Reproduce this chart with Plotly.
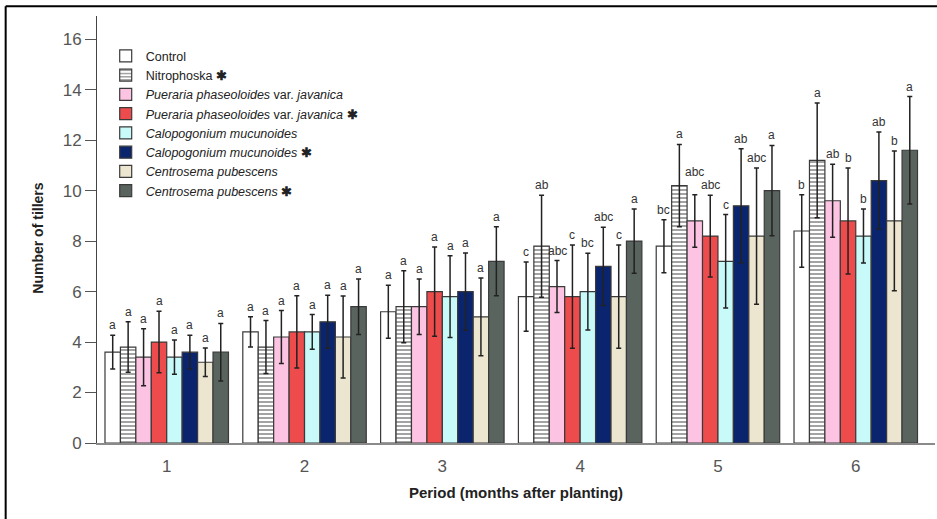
import plotly.graph_objects as go

periods = ["1", "2", "3", "4", "5", "6"]

series_names = [
    "Control",
    "Nitrophoska <b>✱</b>",
    "<i>Pueraria phaseoloides</i> var. <i>javanica</i>",
    "<i>Pueraria phaseoloides</i> var. <i>javanica</i> <b>✱</b>",
    "<i>Calopogonium mucunoides</i>",
    "<i>Calopogonium mucunoides</i> <b>✱</b>",
    "<i>Centrosema pubescens</i>",
    "<i>Centrosema pubescens</i> <b>✱</b>",
]

control = [3.6, 4.4, 5.2, 5.8, 7.8, 8.4]
nitrophoska = [3.8, 3.8, 5.4, 7.8, 10.2, 11.2]
pueraria = [3.4, 4.2, 5.4, 6.2, 8.8, 9.6]
pueraria_s = [4.0, 4.4, 6.0, 5.8, 8.2, 8.8]
calopogonium = [3.4, 4.4, 5.8, 6.0, 7.2, 8.2]
calopogonium_s = [3.6, 4.8, 6.0, 7.0, 9.4, 10.4]
centrosema = [3.2, 4.2, 5.0, 5.8, 8.2, 8.8]
centrosema_s = [3.6, 5.4, 7.2, 8.0, 10.0, 11.6]

control_err = [0.67, 0.6, 1.05, 1.37, 1.05, 1.44]
nitrophoska_err = [1.0, 1.05, 1.43, 2.02, 1.63, 2.27]
pueraria_err = [1.13, 1.05, 1.1, 1.03, 1.04, 1.45]
pueraria_s_err = [1.22, 1.43, 1.77, 2.05, 1.62, 2.1]
calopogonium_err = [0.68, 0.69, 1.62, 1.52, 1.85, 1.07]
calopogonium_s_err = [0.67, 1.05, 1.53, 1.55, 2.26, 1.92]
centrosema_err = [0.56, 1.62, 1.54, 2.05, 2.7, 2.77]
centrosema_s_err = [1.14, 1.1, 1.37, 1.27, 1.79, 2.13]

control_lab = ["a", "a", "a", "c", "bc", "b"]
nitrophoska_lab = ["a", "a", "a", "ab", "a", "a"]
pueraria_lab = ["a", "a", "a", "abc", "abc", "ab"]
pueraria_s_lab = ["a", "a", "a", "c", "abc", "b"]
calopogonium_lab = ["a", "a", "a", "bc", "c", "b"]
calopogonium_s_lab = ["a", "a", "a", "abc", "ab", "ab"]
centrosema_lab = ["a", "a", "a", "c", "abc", "b"]
centrosema_s_lab = ["a", "a", "a", "a", "a", "a"]

values = [control, nitrophoska, pueraria, pueraria_s, calopogonium, calopogonium_s, centrosema, centrosema_s]
errors = [control_err, nitrophoska_err, pueraria_err, pueraria_s_err, calopogonium_err,
          calopogonium_s_err, centrosema_err, centrosema_s_err]
letters = [control_lab, nitrophoska_lab, pueraria_lab, pueraria_s_lab, calopogonium_lab,
           calopogonium_s_lab, centrosema_lab, centrosema_s_lab]

colors = ["#FFFFFF", "#FFFFFF", "#FCC4E2", "#EE4C4C", "#C8FAFA", "#0A246E", "#ECE5CF", "#5A645F"]

# extra vertical nudge (px) for letters that would collide: (series index, period index)
label_nudge = {(2, 4): 13}

W, H = 937, 519
L, R, T, B = 97.3, 935.0, 15.7, 443.3

def px_x(p):
    return (p - L) / (R - L)

def px_y(p):
    return (B - p) / (B - T)

bw = 0.112
fig = go.Figure()
annotations = []
for j in range(8):
    xs = [g + (j - 3.5) * bw for g in range(len(periods))]
    marker = dict(color=colors[j], line=dict(color="#3a3a3a", width=1.2))
    if j == 1:
        marker["pattern"] = dict(shape="-", fgcolor="#333333", bgcolor="#FFFFFF",
                                 size=4, solidity=0.45, fillmode="overlay")
    fig.add_trace(go.Bar(
        x=xs, y=values[j], width=bw, name=series_names[j], marker=marker,
        error_y=dict(type="data", array=errors[j], color="#222222", thickness=1.5, width=2.5),
    ))
    for g in range(len(periods)):
        annotations.append(dict(
            x=xs[g], y=values[j][g] + errors[j][g], xref="x", yref="y",
            text=letters[j][g], showarrow=False, yanchor="bottom",
            yshift=1 + label_nudge.get((j, g), 0),
            font=dict(family="Liberation Sans, Arial", size=12, color="#333333"),
        ))

annotations.append(dict(
    text="<b>Number of tillers</b>", xref="paper", yref="paper",
    x=px_x(38), y=px_y(238), xanchor="center", yanchor="middle",
    textangle=-90, showarrow=False,
    font=dict(size=14, color="#222222"),
))

fig.update_layout(
    width=W, height=H,
    margin=dict(l=L, r=W - R, t=T, b=H - B),
    paper_bgcolor="white", plot_bgcolor="white",
    barmode="overlay",
    font=dict(family="Liberation Sans, Arial", color="#333333"),
    legend=dict(
        x=px_x(106), y=px_y(41), xanchor="left", yanchor="top",
        bgcolor="rgba(0,0,0,0)", borderwidth=0,
        font=dict(family="Liberation Sans, Arial", size=12.5, color="#222222"),
        itemwidth=30, tracegroupgap=0,
    ),
    xaxis=dict(
        range=[-0.506, 5.575], tickmode="array", tickvals=list(range(len(periods))),
        ticktext=periods, showgrid=False, zeroline=False, ticks="",
        showline=True, linecolor="#8a8a8a", linewidth=2,
        tickfont=dict(size=17, color="#555555"), ticklabelstandoff=7,
        title=dict(text="<b>Period (months after planting)</b>",
                   font=dict(size=15, color="#222222"), standoff=12),
    ),
    yaxis=dict(
        range=[0, 16.92], tickmode="array", tickvals=[0, 2, 4, 6, 8, 10, 12, 14, 16],
        showgrid=False, zeroline=False, ticks="outside", ticklen=11, tickcolor="#555555",
        showline=True, linecolor="#444444", linewidth=1,
        tickfont=dict(size=17, color="#555555"),
    ),
    annotations=annotations,
    shapes=[
        dict(type="line", xref="paper", yref="paper", x0=px_x(6), x1=px_x(940),
             y0=px_y(6), y1=px_y(6), line=dict(color="black", width=2)),
        dict(type="line", xref="paper", yref="paper", x0=px_x(6), x1=px_x(6),
             y0=px_y(6), y1=px_y(525), line=dict(color="black", width=2)),
    ],
)

fig.write_html("out.html")
